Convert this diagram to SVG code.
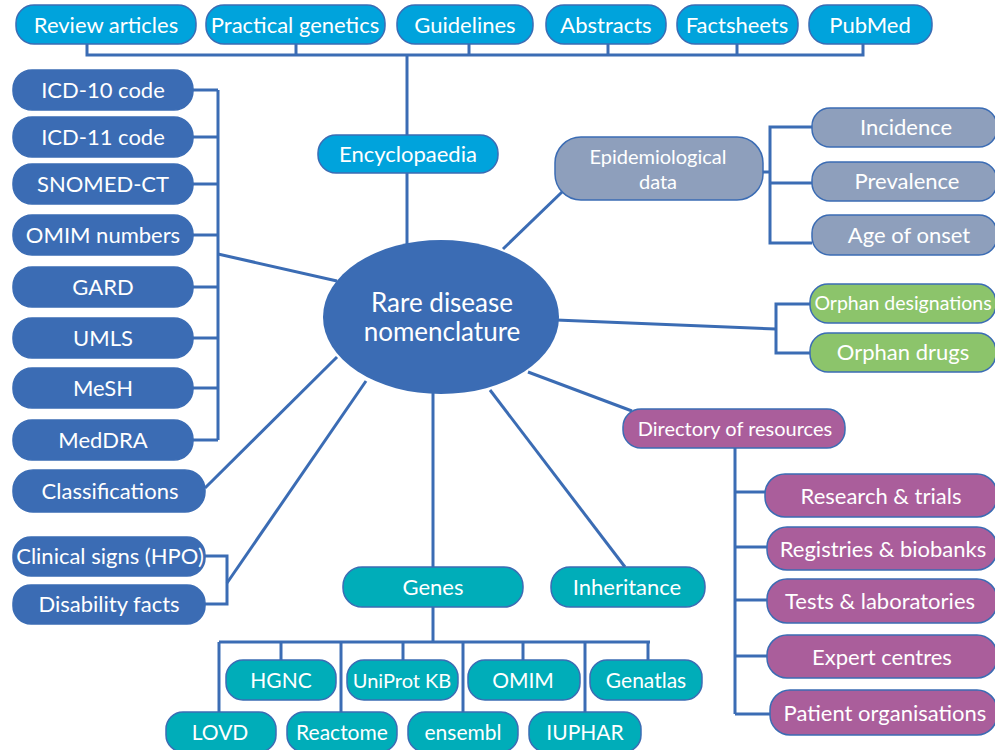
<svg xmlns="http://www.w3.org/2000/svg" width="995" height="750" viewBox="0 0 995 750">
<style>
.b{stroke:#3b6cb4;stroke-width:1.5}
.db{fill:#3b6cb4}
.cy{fill:#00a3dc}
.gr{fill:#8e9fbc}
.gn{fill:#8cc46b}
.pu{fill:#aa5e9b}
.te{fill:#00adb9}
text{font-family:Lato,"Liberation Sans",sans-serif;font-size:22px;fill:#fff;text-anchor:middle}
.s21{font-size:21px}
.s20{font-size:20px}
.c line,.c polyline{stroke:#3b6cb4;stroke-width:3;fill:none}
</style>
<rect width="995" height="750" fill="#fff"/>
<g class="c" id="connectors">
<polyline points="87,44 87,55 863,55 863,44"/>
<line x1="296" y1="44" x2="296" y2="55"/>
<line x1="469" y1="44" x2="469" y2="55"/>
<line x1="608" y1="44" x2="608" y2="55"/>
<line x1="737" y1="44" x2="737" y2="55"/>
<line x1="407" y1="55" x2="407" y2="135"/>
<line x1="407" y1="173" x2="407" y2="245"/>
<line x1="218" y1="90" x2="218" y2="440"/>
<line x1="193" y1="90" x2="218" y2="90"/>
<line x1="193" y1="137" x2="218" y2="137"/>
<line x1="193" y1="184" x2="218" y2="184"/>
<line x1="193" y1="235" x2="218" y2="235"/>
<line x1="193" y1="287" x2="218" y2="287"/>
<line x1="193" y1="338" x2="218" y2="338"/>
<line x1="193" y1="388" x2="218" y2="388"/>
<line x1="193" y1="440" x2="218" y2="440"/>
<line x1="218" y1="254" x2="337" y2="281"/>
<line x1="205" y1="488" x2="337" y2="357"/>
<polyline points="205,556 227,556 227,604 205,604"/>
<line x1="227" y1="583" x2="366" y2="381"/>
<line x1="433" y1="390" x2="433" y2="567"/>
<line x1="490" y1="390" x2="625" y2="567"/>
<line x1="528" y1="372" x2="632" y2="411"/>
<line x1="556" y1="320" x2="776" y2="329"/>
<polyline points="810,304 776,304 776,353 810,353"/>
<line x1="503" y1="249" x2="562" y2="192"/>
<polyline points="812,127 770,127 770,243 812,243"/>
<line x1="763" y1="172" x2="770" y2="172"/>
<line x1="770" y1="183" x2="812" y2="183"/>
<line x1="735" y1="448" x2="735" y2="714"/>
<line x1="735" y1="492" x2="765" y2="492"/>
<line x1="735" y1="547" x2="767" y2="547"/>
<line x1="735" y1="600" x2="767" y2="600"/>
<line x1="735" y1="656" x2="767" y2="656"/>
<line x1="735" y1="714" x2="770" y2="714"/>
<line x1="433" y1="607" x2="433" y2="642"/>
<line x1="219" y1="642" x2="650" y2="642"/>
<line x1="219" y1="642" x2="219" y2="712"/>
<line x1="281" y1="642" x2="281" y2="660"/>
<line x1="341" y1="642" x2="341" y2="712"/>
<line x1="403" y1="642" x2="403" y2="660"/>
<line x1="463" y1="642" x2="463" y2="712"/>
<line x1="523" y1="642" x2="523" y2="660"/>
<line x1="585" y1="642" x2="585" y2="712"/>
<line x1="648" y1="642" x2="648" y2="660"/>
</g>
<g id="center"><ellipse cx="441" cy="317" rx="118" ry="77" class="db"/><text x="442" y="312" style="font-size:26px">Rare disease</text><text x="442" y="341" style="font-size:26px">nomenclature</text></g>
<g id="review"><rect x="16" y="5" width="180" height="39" rx="18" class="cy b"/><text x="106" y="33">Review articles</text></g>
<g id="practical"><rect x="206" y="5" width="179" height="39" rx="18" class="cy b"/><text x="295" y="33">Practical genetics</text></g>
<g id="guidelines"><rect x="397" y="5" width="136" height="39" rx="18" class="cy b"/><text x="465" y="33">Guidelines</text></g>
<g id="abstracts"><rect x="546" y="5" width="120" height="39" rx="18" class="cy b"/><text x="606" y="33">Abstracts</text></g>
<g id="factsheets"><rect x="677" y="5" width="121" height="39" rx="18" class="cy b"/><text x="737" y="33">Factsheets</text></g>
<g id="pubmed"><rect x="809" y="5" width="123" height="39" rx="18" class="cy b"/><text x="870" y="33">PubMed</text></g>
<g id="encyclopaedia"><rect x="318" y="135" width="180" height="38" rx="18" class="cy b"/><text x="408" y="162">Encyclopaedia</text></g>
<g id="icd10"><rect x="13" y="70" width="180" height="40" rx="19" class="db b"/><text x="103" y="98">ICD-10 code</text></g>
<g id="icd11"><rect x="13" y="117" width="180" height="40" rx="19" class="db b"/><text x="103" y="145">ICD-11 code</text></g>
<g id="snomed"><rect x="13" y="164" width="180" height="40" rx="19" class="db b"/><text x="103" y="192">SNOMED-CT</text></g>
<g id="omimnum"><rect x="13" y="215" width="180" height="40" rx="19" class="db b"/><text x="103" y="243">OMIM numbers</text></g>
<g id="gard"><rect x="13" y="267" width="180" height="40" rx="19" class="db b"/><text x="103" y="295">GARD</text></g>
<g id="umls"><rect x="13" y="318" width="180" height="40" rx="19" class="db b"/><text x="103" y="346">UMLS</text></g>
<g id="mesh"><rect x="13" y="368" width="180" height="40" rx="19" class="db b"/><text x="103" y="396">MeSH</text></g>
<g id="meddra"><rect x="13" y="420" width="180" height="40" rx="19" class="db b"/><text x="103" y="448">MedDRA</text></g>
<g id="classifications"><rect x="13" y="470" width="192" height="42" rx="20" class="db b"/><text x="110" y="499">Classifications</text></g>
<g id="hpo"><rect x="13" y="537" width="192" height="39" rx="18" class="db b"/><text x="110" y="564">Clinical signs (HPO)</text></g>
<g id="disability"><rect x="13" y="585" width="192" height="39" rx="18" class="db b"/><text x="109" y="612">Disability facts</text></g>
<g id="epi"><rect x="555" y="137" width="208" height="63" rx="26" class="gr b"/><text x="658" y="164" class="s20">Epidemiological</text><text x="658" y="189" class="s20">data</text></g>
<g id="incidence"><rect x="812" y="108" width="185" height="39" rx="18" class="gr b"/><text x="906" y="135">Incidence</text></g>
<g id="prevalence"><rect x="812" y="162" width="185" height="39" rx="18" class="gr b"/><text x="907" y="189">Prevalence</text></g>
<g id="age"><rect x="812" y="215" width="185" height="40" rx="18" class="gr b"/><text x="909" y="243">Age of onset</text></g>
<g id="orphandes"><rect x="810" y="284" width="186" height="39" rx="18" class="gn b"/><text x="903" y="310" style="font-size:19.5px">Orphan designations</text></g>
<g id="orphandrugs"><rect x="810" y="333" width="186" height="39" rx="18" class="gn b"/><text x="903" y="360">Orphan drugs</text></g>
<g id="directory"><rect x="623" y="409" width="222" height="39" rx="18" class="pu b"/><text x="735" y="436" class="s20">Directory of resources</text></g>
<g id="research"><rect x="765" y="474" width="232" height="43" rx="20" class="pu b"/><text x="881" y="504">Research &amp; trials</text></g>
<g id="registries"><rect x="767" y="527" width="230" height="43" rx="20" class="pu b"/><text x="883" y="557">Registries &amp; biobanks</text></g>
<g id="tests"><rect x="767" y="579" width="230" height="44" rx="20" class="pu b"/><text x="880" y="609">Tests &amp; laboratories</text></g>
<g id="expert"><rect x="767" y="635" width="230" height="43" rx="20" class="pu b"/><text x="882" y="665">Expert centres</text></g>
<g id="patient"><rect x="770" y="690" width="227" height="45" rx="20" class="pu b"/><text x="885" y="721">Patient organisations</text></g>
<g id="genes"><rect x="343" y="567" width="180" height="40" rx="19" class="te b"/><text x="433" y="595">Genes</text></g>
<g id="inheritance"><rect x="551" y="567" width="154" height="40" rx="19" class="te b"/><text x="627" y="595">Inheritance</text></g>
<g id="hgnc"><rect x="226" y="660" width="110" height="40" rx="17" class="te b"/><text x="281" y="688" class="s21">HGNC</text></g>
<g id="uniprot"><rect x="347" y="660" width="111" height="40" rx="17" class="te b"/><text x="402" y="688" class="s20">UniProt KB</text></g>
<g id="omim"><rect x="468" y="660" width="112" height="40" rx="17" class="te b"/><text x="523" y="688" class="s21">OMIM</text></g>
<g id="genatlas"><rect x="590" y="660" width="112" height="40" rx="17" class="te b"/><text x="646" y="688" class="s21">Genatlas</text></g>
<g id="lovd"><rect x="166" y="712" width="110" height="40" rx="17" class="te b"/><text x="220" y="740" class="s21">LOVD</text></g>
<g id="reactome"><rect x="287" y="712" width="110" height="40" rx="17" class="te b"/><text x="342" y="740" class="s21">Reactome</text></g>
<g id="ensembl"><rect x="408" y="712" width="110" height="40" rx="17" class="te b"/><text x="463" y="740" class="s21">ensembl</text></g>
<g id="iuphar"><rect x="529" y="712" width="112" height="40" rx="17" class="te b"/><text x="585" y="740" class="s21">IUPHAR</text></g>
</svg>
